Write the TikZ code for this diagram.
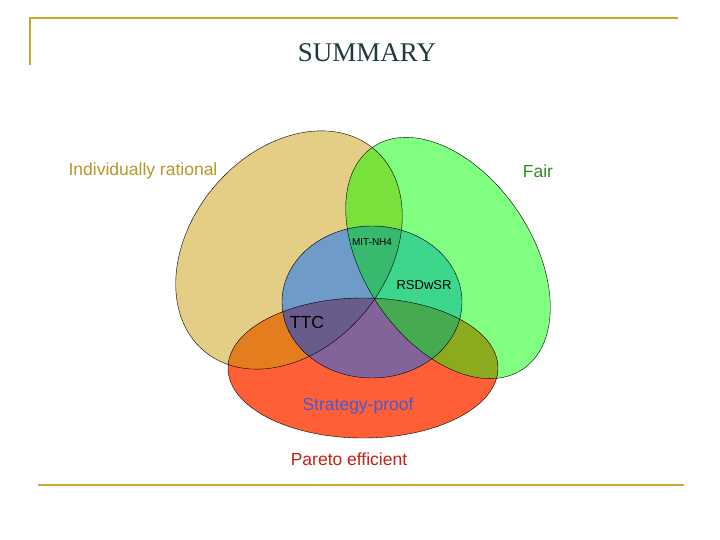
\documentclass[tikz,border=0pt]{standalone}
\usepackage{fontspec}
\setmainfont{Liberation Sans}
\newfontfamily\serifx{Liberation Serif}
\definecolor{gold}{RGB}{200,170,50}
\definecolor{ctan}{RGB}{228,205,132}
\definecolor{cgreen}{RGB}{128,255,128}
\definecolor{ctg}{RGB}{120,225,60}
\definecolor{cred}{RGB}{255,95,55}
\definecolor{crt}{RGB}{228,125,30}
\definecolor{crg}{RGB}{140,170,30}
\definecolor{cblue}{RGB}{130,170,255}
\definecolor{cbt}{RGB}{110,155,200}
\definecolor{cbg}{RGB}{60,215,140}
\definecolor{cbtg}{RGB}{55,185,110}
\definecolor{cbr}{RGB}{130,100,155}
\definecolor{cbrt}{RGB}{105,92,140}
\definecolor{cbrg}{RGB}{70,170,80}
\def\tanc{\clip[rotate around={50:(289,250)}] (289,250) ellipse [x radius=132, y radius=98];}
\def\grnc{\clip[rotate around={-56:(448,258)}] (448,258) ellipse [x radius=134, y radius=84];}
\def\redc{\clip (363,368) ellipse [x radius=135, y radius=70];}
\def\bluc{\clip (372,302) ellipse [x radius=90, y radius=76];}
\begin{document}
\begin{tikzpicture}[x=1pt,y=-1pt,lbl/.style={inner sep=0pt,anchor=center}]
\useasboundingbox (0,0) rectangle (720,540);
\fill[white] (0,0) rectangle (720,540);
\draw[gold,line width=1.5pt] (30,65) -- (30,18) -- (678,18);
\draw[gold,line width=1.5pt] (38,485) -- (684,485);
\node[lbl,font=\serifx\fontsize{27}{30}\selectfont,text={rgb,255:red,30;green,60;blue,60}] (title) at (367,53) {SUMMARY};
% fills
\begin{scope}\tanc\fill[ctan] (0,0) rectangle (720,540);\end{scope}
\begin{scope}\grnc\fill[cgreen] (0,0) rectangle (720,540);\end{scope}
\begin{scope}\tanc\grnc\fill[ctg] (0,0) rectangle (720,540);\end{scope}
\begin{scope}\redc\fill[cred] (0,0) rectangle (720,540);\end{scope}
\begin{scope}\redc\tanc\fill[crt] (0,0) rectangle (720,540);\end{scope}
\begin{scope}\redc\grnc\fill[crg] (0,0) rectangle (720,540);\end{scope}
\begin{scope}\bluc\fill[cblue] (0,0) rectangle (720,540);\end{scope}
\begin{scope}\bluc\tanc\fill[cbt] (0,0) rectangle (720,540);\end{scope}
\begin{scope}\bluc\grnc\fill[cbg] (0,0) rectangle (720,540);\end{scope}
\begin{scope}\bluc\tanc\grnc\fill[cbtg] (0,0) rectangle (720,540);\end{scope}
\begin{scope}\bluc\redc\fill[cbr] (0,0) rectangle (720,540);\end{scope}
\begin{scope}\bluc\redc\tanc\fill[cbrt] (0,0) rectangle (720,540);\end{scope}
\begin{scope}\bluc\redc\grnc\fill[cbrg] (0,0) rectangle (720,540);\end{scope}
% outlines
\draw[rotate around={50:(289,250)}] (289,250) ellipse [x radius=132, y radius=98];
\draw[rotate around={-56:(448,258)}] (448,258) ellipse [x radius=134, y radius=84];
\draw (363,368) ellipse [x radius=135, y radius=70];
\draw (372,302) ellipse [x radius=90, y radius=76];
% labels
\node[lbl,font=\fontsize{17.5}{20}\selectfont,text={rgb,255:red,185;green,150;blue,40}] (ir) at (143,171) {Individually rational};
\node[lbl,font=\fontsize{17.5}{20}\selectfont,text={rgb,255:red,50;green,140;blue,40}] (fair) at (538,171) {Fair};
\node[lbl,font=\fontsize{10}{11}\selectfont] (mit) at (372,242) {MIT-NH4};
\node[lbl,font=\fontsize{13}{15}\selectfont] (rsd) at (424,285) {RSDwSR};
\node[lbl,font=\fontsize{17.5}{20}\selectfont] (ttc) at (307,322) {TTC};
\node[lbl,font=\fontsize{17.5}{20}\selectfont,text={rgb,255:red,70;green,90;blue,210}] (sp) at (358,406) {Strategy-proof};
\node[lbl,font=\fontsize{17.5}{20}\selectfont,text={rgb,255:red,200;green,30;blue,20}] (pe) at (349,459) {Pareto efficient};
\end{tikzpicture}
\end{document}
